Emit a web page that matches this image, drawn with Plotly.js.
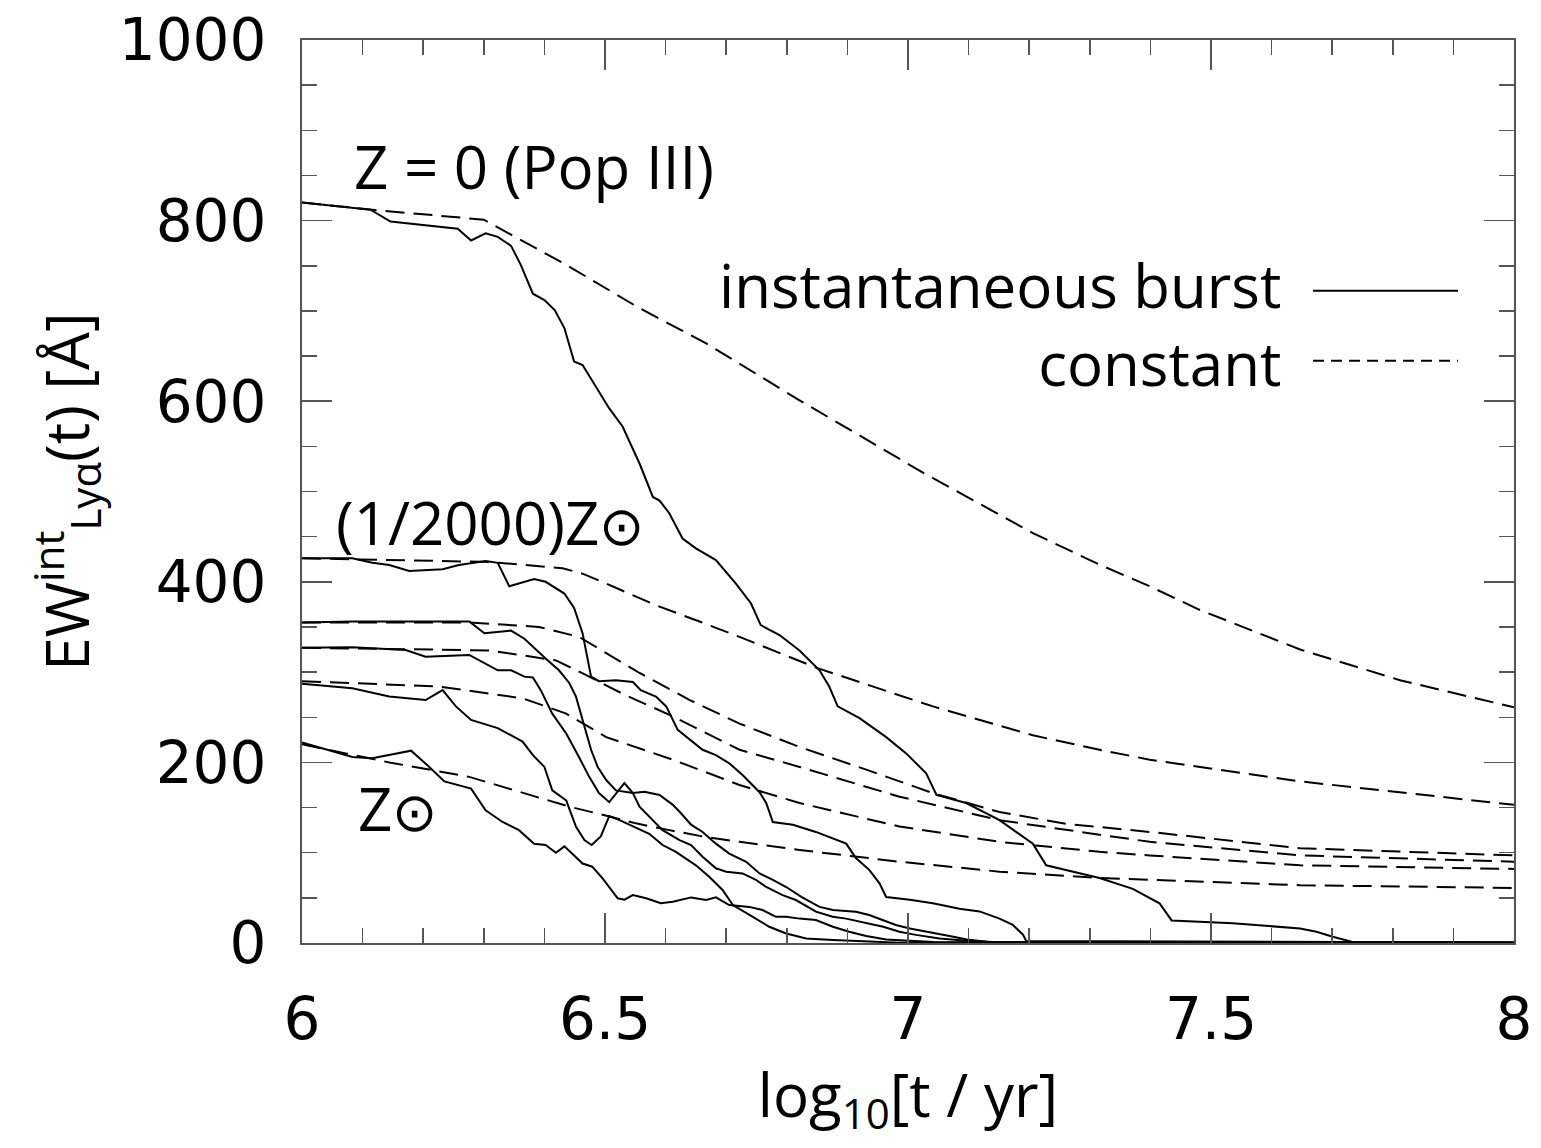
<!DOCTYPE html>
<html>
<head>
<meta charset="utf-8">
<script src="https://cdn.plot.ly/plotly-3.0.1.min.js"></script>
<style>html,body{margin:0;padding:0;background:#fff;}</style>
</head>
<body>
<div id="chart" style="width:1541px;height:1148px;"></div>
<script>
// ---- constant star formation (dashed) ----
const constA_x = [6.0, 6.116, 6.30, 6.336, 6.436, 6.557, 6.667, 6.821, 7.027, 7.206, 7.316, 7.399, 7.481, 7.647, 7.812, 8.0];
const constA_y = [820, 812, 801, 788, 751, 703, 664, 601, 520, 454, 419, 395, 369, 325, 291, 261];
const constB_x = [6.0, 6.309, 6.43, 6.463, 6.502, 6.584, 6.656, 6.722, 6.848, 7.041, 7.206, 7.316, 7.399, 7.647, 8.0];
const constB_y = [426, 422, 415, 409, 398, 374, 356, 339, 305, 262, 230, 214, 203, 179, 153];
const constC_x = [6.0, 6.276, 6.391, 6.457, 6.502, 6.557, 6.64, 6.722, 6.821, 6.931, 7.041, 7.151, 7.261, 7.399, 7.647, 8.0];
const constC_y = [355, 355, 350, 339, 321, 299, 269, 243, 217, 192, 166, 145, 132, 123, 105, 97];
const constD_x = [6.0, 6.309, 6.419, 6.474, 6.529, 6.612, 6.722, 6.821, 6.986, 7.151, 7.316, 7.399, 7.647, 8.0];
const constD_y = [327, 324, 313, 295, 276, 251, 214, 195, 162, 136, 120, 112, 97, 90];
const constE_x = [6.0, 6.226, 6.364, 6.436, 6.502, 6.612, 6.722, 6.821, 6.986, 7.151, 7.316, 7.399, 7.647, 8.0];
const constE_y = [290, 284, 271, 254, 228, 203, 175, 155, 129, 112, 101, 97, 86, 82];
const constF_x = [6.0, 6.144, 6.276, 6.331, 6.386, 6.441, 6.496, 6.551, 6.606, 6.661, 6.722, 6.821, 6.986, 7.151, 7.316, 7.399, 7.647, 8.0];
const constF_y = [220, 200, 184, 173, 162, 151, 142, 132.5, 125, 118, 112, 103, 90, 79, 72, 70, 64, 61];

// ---- instantaneous burst (solid) ----
const burstA_x = [6.0, 6.113, 6.146, 6.257, 6.279, 6.303, 6.323, 6.345, 6.361, 6.381, 6.40, 6.417, 6.433, 6.449, 6.463, 6.479, 6.507, 6.529, 6.557, 6.579, 6.59, 6.606, 6.628, 6.650, 6.683, 6.716, 6.741, 6.757, 6.788, 6.821, 6.854, 6.87, 6.884, 6.92, 6.964, 6.997, 7.03, 7.047, 7.096, 7.151, 7.206, 7.228, 7.261, 7.316, 7.371, 7.415, 7.435, 7.536, 7.647, 7.674, 7.701, 7.735, 8.0];
const burstA_y = [820, 812, 799, 791, 778, 786, 782, 772, 751, 719, 712, 701, 681, 644, 640, 623, 592, 572, 531, 494, 490, 476, 448, 437, 424, 398, 376, 352, 341, 324, 302, 284, 262, 249, 228, 210, 188, 164, 155, 136, 110, 86, 81, 72, 60, 44, 25, 22, 16, 12.5, 7, 1, 0.5];
const burstB_x = [6.0, 6.083, 6.116, 6.144, 6.177, 6.232, 6.259, 6.303, 6.323, 6.342, 6.383, 6.402, 6.433, 6.449, 6.463, 6.477, 6.49, 6.518, 6.546, 6.559, 6.584, 6.601, 6.62, 6.64, 6.661, 6.683, 6.705, 6.727, 6.755, 6.766, 6.777, 6.81, 6.848, 6.898, 6.914, 6.936, 6.953, 6.964, 7.003, 7.041, 7.085, 7.118, 7.151, 7.173, 7.19, 7.195, 7.5, 7.7, 8.0];
const burstB_y = [426, 426, 421, 418.6, 412, 414, 418.6, 423, 421, 395, 403, 400, 387, 371, 343, 295, 290, 291, 289, 280, 273, 262, 236, 225, 214, 208, 199, 186, 167, 155, 134, 131, 123, 110, 94, 81, 66, 51, 48, 44, 38, 35, 27, 20, 9, 2.2, 1.5, 1, 0.5];
const burstC_x = [6.0, 6.083, 6.276, 6.301, 6.345, 6.367, 6.402, 6.424, 6.441, 6.452, 6.466, 6.477, 6.488, 6.502, 6.518, 6.546, 6.565, 6.59, 6.612, 6.625, 6.642, 6.661, 6.683, 6.705, 6.733, 6.755, 6.777, 6.799, 6.824, 6.854, 6.876, 6.914, 6.936, 6.959, 6.98, 7.003, 7.042, 7.075, 7.097, 7.13, 7.3, 8.0];
const burstC_y = [355, 356, 356, 343, 346, 337, 315, 302, 288, 273, 240, 214, 195, 180.5, 169, 166, 167.5, 164, 153, 144, 131, 123, 110, 99, 90, 77, 70, 62, 51, 40, 36.5, 34.7, 31, 25.5, 20, 16, 11.4, 7, 4, 1.4, 0.8, 0.3];
const burstD_x = [6.0, 6.083, 6.171, 6.204, 6.276, 6.323, 6.345, 6.367, 6.381, 6.394, 6.413, 6.436, 6.457, 6.474, 6.49, 6.507, 6.532, 6.546, 6.557, 6.579, 6.595, 6.623, 6.642, 6.661, 6.683, 6.7, 6.727, 6.749, 6.766, 6.793, 6.815, 6.848, 6.876, 6.898, 6.931, 6.959, 6.986, 7.013, 7.052, 7.097, 7.141, 7.3, 8.0];
const burstD_y = [327, 327.5, 324.5, 317, 319, 302, 302, 295, 294, 280, 254, 232, 206, 184, 166, 156, 177, 166, 151, 136, 125, 114, 108.5, 95.6, 82.7, 79, 77, 70, 62, 53, 47.6, 34.7, 29, 27, 21.7, 18, 12.5, 9, 5, 2.5, 1, 0.5, 0.2];
const burstE_x = [6.0, 6.083, 6.144, 6.204, 6.232, 6.254, 6.279, 6.323, 6.364, 6.381, 6.40, 6.413, 6.436, 6.452, 6.466, 6.478, 6.493, 6.507, 6.524, 6.54, 6.573, 6.595, 6.617, 6.65, 6.672, 6.694, 6.711, 6.744, 6.771, 6.799, 6.832, 6.876, 6.931, 6.986, 8.0];
const burstE_y = [287, 282, 273, 269, 280, 262, 247, 238, 223, 208, 195, 169, 158, 129, 114, 108.5, 118, 140.6, 136, 131, 121, 108.5, 101, 86, 73.4, 58.7, 42, 29, 18, 10.6, 5, 3.3, 1.4, 0.3, 0];
const burstF_x = [6.0, 6.083, 6.116, 6.18, 6.21, 6.235, 6.279, 6.303, 6.331, 6.358, 6.383, 6.402, 6.419, 6.433, 6.463, 6.479, 6.496, 6.521, 6.532, 6.546, 6.568, 6.592, 6.612, 6.642, 6.667, 6.683, 6.705, 6.738, 6.76, 6.782, 6.799, 6.821, 6.848, 6.876, 6.903, 6.931, 6.964, 7.003, 7.042, 8.0];
const burstF_y = [222, 206, 204.5, 213, 195, 179, 171, 147, 134, 125, 110, 108.5, 100, 107, 88, 84.5, 71.6, 49.5, 48, 53, 49.5, 44, 45.7, 50.5, 47.6, 50.5, 42, 40, 36.5, 29, 29, 27, 25.5, 18, 12.5, 7.8, 4, 2.2, 1, 0.3];

// ---- labels ----
const xTickVals = [6, 6.5, 7, 7.5, 8];
const xTickText = ['6', '6.5', '7', '7.5', '8'];
const yTickVals = [0, 200, 400, 600, 800, 1000];
const yTickText = ['0', '200', '400', '600', '800', '1000'];
const sun = '<span style="font-size:54px">⊙</span>';
const curveLabels = ['Z = 0 (Pop III)', '(1/2000)Z' + sun, 'Z' + sun];
const legendLabels = ['instantaneous burst', 'constant'];

const constSeries = [[constA_x, constA_y], [constB_x, constB_y], [constC_x, constC_y], [constD_x, constD_y], [constE_x, constE_y], [constF_x, constF_y]];
const burstSeries = [[burstA_x, burstA_y], [burstB_x, burstB_y], [burstC_x, burstC_y], [burstD_x, burstD_y], [burstE_x, burstE_y], [burstF_x, burstF_y]];

const traces = [];
constSeries.forEach(s => traces.push({x: s[0], y: s[1], type: 'scatter', mode: 'lines', showlegend: false,
  line: {color: '#000', width: 2, dash: '19px,9px'}, hoverinfo: 'skip'}));
burstSeries.forEach(s => traces.push({x: s[0], y: s[1], type: 'scatter', mode: 'lines', showlegend: false,
  line: {color: '#000', width: 2}, hoverinfo: 'skip'}));

const txtFont = {family: 'Open Sans, sans-serif', size: 60, color: '#000'};
const legFont = {family: 'Open Sans, sans-serif', size: 60, color: '#000'};
const tickFont = {family: 'DejaVu Sans, sans-serif', size: 58, color: '#000'};
const axisCommon = {
  showgrid: false, zeroline: false, showline: true, linecolor: '#555', linewidth: 2,
  mirror: 'allticks', ticks: 'inside', ticklen: 30, tickwidth: 1.5, tickcolor: '#555',
  tickfont: tickFont
};

const layout = {
  width: 1541, height: 1148,
  margin: {l: 302, r: 27, t: 40, b: 205, pad: 0},
  paper_bgcolor: '#fff', plot_bgcolor: '#fff',
  showlegend: false,
  xaxis: Object.assign({}, axisCommon, {
    range: [6, 8], tickvals: xTickVals, ticktext: xTickText,
    minor: {dtick: 0.1, tick0: 6, ticks: 'inside', ticklen: 15, tickwidth: 1.5, tickcolor: '#555'},
    ticklabelstandoff: 24,
    title: {text: 'log<sub>10</sub>[t / yr]', font: txtFont, standoff: 18}
  }),
  yaxis: Object.assign({}, axisCommon, {
    range: [0, 1000], tickvals: yTickVals, ticktext: yTickText,
    minor: {dtick: 50, tick0: 0, ticks: 'inside', ticklen: 15, tickwidth: 1.5, tickcolor: '#555'},
    ticklabelstandoff: 22,
    title: {text: 'EW<sup>int</sup><sub>Lyα</sub>(t) [Å]', font: txtFont, standoff: 10}
  }),
  annotations: [
    {x: 6.383, y: 861, xref: 'x', yref: 'y', text: curveLabels[0], showarrow: false, font: txtFont, xanchor: 'center', yanchor: 'middle'},
    {x: 6.31, y: 466, xref: 'x', yref: 'y', text: curveLabels[1], showarrow: false, font: txtFont, xanchor: 'center', yanchor: 'middle'},
    {x: 6.158, y: 150, xref: 'x', yref: 'y', text: curveLabels[2], showarrow: false, font: txtFont, xanchor: 'center', yanchor: 'middle'},
    {x: 0.8094, y: 0.6855, xref: 'paper', yref: 'paper', text: legendLabels.join('<br>'), showarrow: false, font: legFont, xanchor: 'right', yanchor: 'middle', align: 'right'}
  ],
  shapes: [
    {type: 'line', xref: 'paper', yref: 'paper', x0: 0.8342, x1: 0.9538, y0: 0.7224, y1: 0.7224, line: {color: '#000', width: 2}},
    {type: 'line', xref: 'paper', yref: 'paper', x0: 0.8342, x1: 0.9538, y0: 0.6448, y1: 0.6448, line: {color: '#000', width: 2, dash: '11px,7px'}}
  ]
};

Plotly.newPlot('chart', traces, layout, {staticPlot: true, displayModeBar: false});
</script>
</body>
</html>
